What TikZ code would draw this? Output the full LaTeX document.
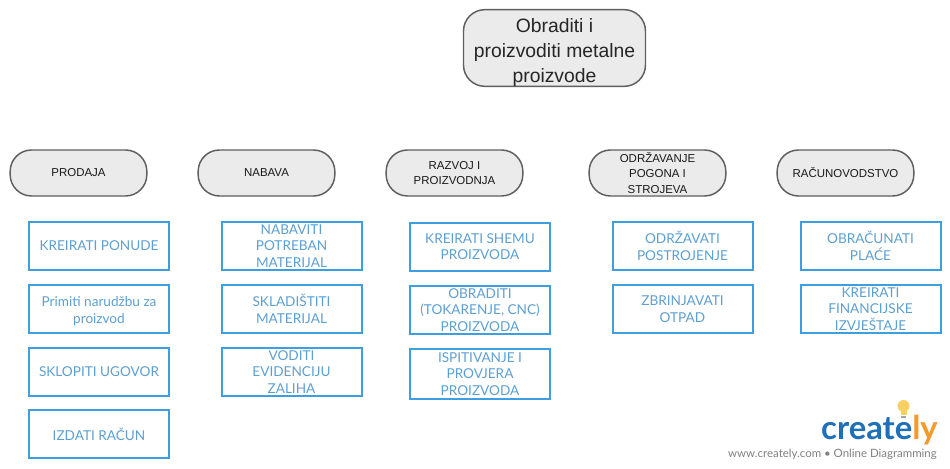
\documentclass[tikz,border=0pt]{standalone}
\usepackage{fontspec}
\setmainfont{Liberation Sans}
\newfontfamily\latofont{Lato}
\definecolor{roundfill}{HTML}{EBEBEB}
\definecolor{roundline}{HTML}{5F5F5F}
\definecolor{boxline}{HTML}{3D9FE0}
\definecolor{boxtext}{HTML}{5C9FD2}
\definecolor{logoblue}{HTML}{1F70B8}
\definecolor{logoorange}{HTML}{F39A2B}
\definecolor{bulb}{HTML}{F8CF62}
\definecolor{logogray}{HTML}{808080}
\tikzset{
  x=0.75pt,y=-0.75pt,
  topbox/.style={draw=roundline,fill=roundfill,line width=1.1pt,rounded corners=16pt,minimum width=136.5pt,minimum height=56.5pt,inner sep=0pt,align=center,font=\fontsize{14.5}{18.75}\selectfont,text=black!85},
  dept/.style={draw=roundline,fill=roundfill,line width=1.1pt,rounded corners=16pt,minimum width=102.5pt,minimum height=34.5pt,inner sep=0pt,align=center,font=\fontsize{8.6}{11.6}\selectfont,text=black!90},
  task/.style={draw=boxline,line width=1.5pt,minimum width=105pt,minimum height=36pt,inner sep=0pt,align=center,font=\latofont\fontsize{10.2}{12.4}\selectfont,text=boxtext},
}
\begin{document}
\begin{tikzpicture}
\useasboundingbox (0,0) rectangle (950,468);
\node[topbox] (top) at (554.5,48) {\rule{0pt}{17pt}Obraditi i\\proizvoditi metalne\\proizvode};
\node[dept] (d1) at (78.5,173) {PRODAJA};
\node[dept] (d2) at (266.5,173) {NABAVA};
\node[dept] (d3) at (454.5,173) {RAZVOJ I\\PROIZVODNJA};
\node[dept] (d4) at (657.5,173) {ODRŽAVANJE\\POGONA I\\STROJEVA};
\node[dept] (d5) at (845.5,173) {RAČUNOVODSTVO};
\node[task] (a1) at (99,246) {KREIRATI PONUDE};
\node[task] (a2) at (99,309) {\rule{0pt}{11pt}Primiti narudžbu za\\proizvod};
\node[task] (a3) at (99,372) {SKLOPITI UGOVOR};
\node[task] (a4) at (99,434) {IZDATI RAČUN};
\node[task] (b1) at (291.5,246) {NABAVITI\\POTREBAN\\MATERIJAL};
\node[task] (b2) at (291.5,309) {SKLADIŠTITI\\MATERIJAL};
\node[task] (b3) at (291.5,372) {VODITI\\EVIDENCIJU\\ZALIHA};
\node[task] (c1) at (480,246.5) {KREIRATI SHEMU\\PROIZVODA};
\node[task] (c2) at (480,310) {OBRADITI\\(TOKARENJE, CNC)\\PROIZVODA};
\node[task,minimum height=37pt] (c3) at (480,374) {ISPITIVANJE I\\PROVJERA\\PROIZVODA};
\node[task] (e1) at (682.5,246) {ODRŽAVATI\\POSTROJENJE};
\node[task] (e2) at (682.5,309) {ZBRINJAVATI\\OTPAD};
\node[task] (f1) at (870.5,246) {OBRAČUNATI\\PLAĆE};
\node[task] (f2) at (870.5,309) {KREIRATI\\FINANCIJSKE\\IZVJEŠTAJE};
% logo
\fill[bulb] (903.5,406) circle[radius=6];
\fill[bulb] (900.5,409) rectangle (906.5,415);
\fill[black!35] (901,415.5) rectangle (906,417.5);
\node[inner sep=0pt,anchor=base east] (logo) at (938,439) {\latofont\bfseries\fontsize{24.6}{28}\selectfont\textcolor{logoblue}{create}\textcolor{logoorange}{ly}};
\node[inner sep=0pt,anchor=base east,text=logogray] (url) at (937,457) {\latofont\fontsize{8.6}{10}\selectfont www.creately.com • Online Diagramming};
\end{tikzpicture}
\end{document}
